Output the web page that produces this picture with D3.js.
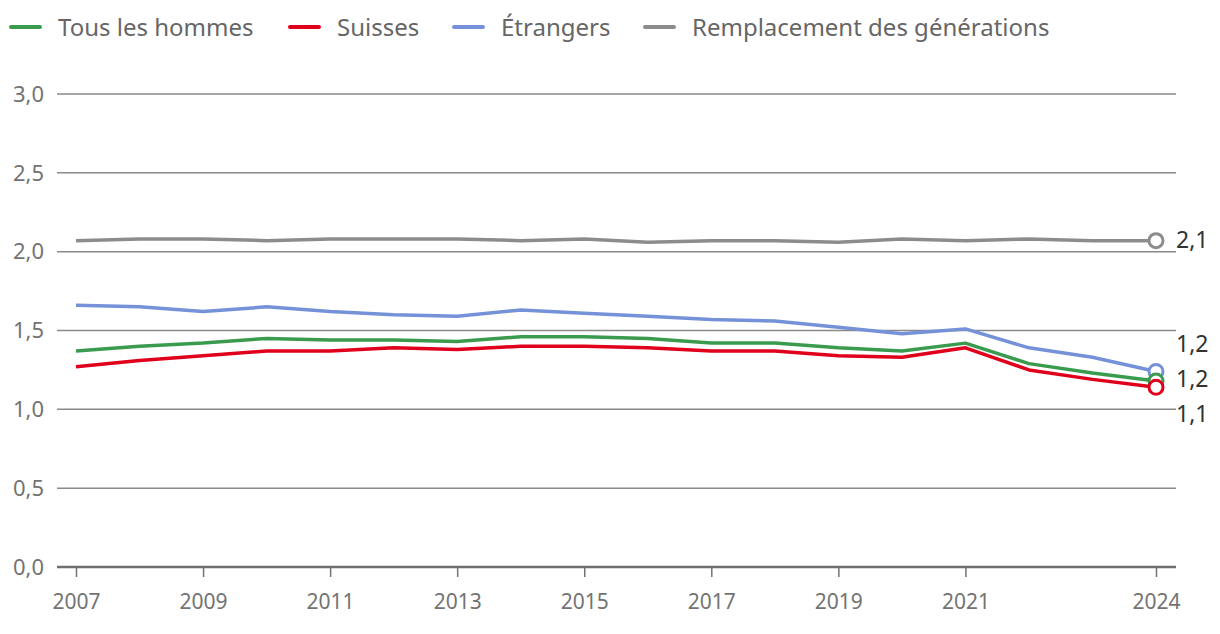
<!DOCTYPE html>
<html>
<head>
<meta charset="utf-8">
<script src="https://cdn.jsdelivr.net/npm/d3@7"></script>
<style>
  body { margin: 0; background: #fff; }
  svg { font-family: "Noto Sans", sans-serif; }
</style>
</head>
<body>
<svg id="chart" width="1220" height="634"></svg>
<script>
// données
var years = d3.range(2007, 2025);
var tickYears = [2007, 2009, 2011, 2013, 2015, 2017, 2019, 2021, 2024];
var yTicks = [0, 0.5, 1, 1.5, 2, 2.5, 3];

var tous = [1.37, 1.40, 1.42, 1.45, 1.44, 1.44, 1.43, 1.46, 1.46, 1.45, 1.42, 1.42, 1.39, 1.37, 1.42, 1.29, 1.23, 1.18];
var suisses = [1.27, 1.31, 1.34, 1.37, 1.37, 1.39, 1.38, 1.40, 1.40, 1.39, 1.37, 1.37, 1.34, 1.33, 1.39, 1.25, 1.19, 1.14];
var etrangers = [1.66, 1.65, 1.62, 1.65, 1.62, 1.60, 1.59, 1.63, 1.61, 1.59, 1.57, 1.56, 1.52, 1.48, 1.51, 1.39, 1.33, 1.24];
var remplacement = [2.07, 2.08, 2.08, 2.07, 2.08, 2.08, 2.08, 2.07, 2.08, 2.06, 2.07, 2.07, 2.06, 2.08, 2.07, 2.08, 2.07, 2.07];

var series = [
  { name: "Tous les hommes", values: tous, color: "#3a9b4e" },
  { name: "Suisses", values: suisses, color: "#e0001b" },
  { name: "Étrangers", values: etrangers, color: "#7592d8" },
  { name: "Remplacement des générations", values: remplacement, color: "#8c8c8c" }
];

var svg = d3.select("#chart");

var x = d3.scaleLinear().domain([2007, 2024]).range([76, 1156]);
var y = d3.scaleLinear().domain([0, 3]).range([567, 94]);

// grille
svg.append("g")
  .selectAll("line")
  .data(yTicks)
  .enter()
  .append("line")
  .attr("x1", 57)
  .attr("x2", 1176)
  .attr("y1", function(d) { return y(d); })
  .attr("y2", function(d) { return y(d); })
  .attr("stroke", function(d) { return d === 0 ? "#6e6e6e" : "#8a8a8a"; })
  .attr("stroke-width", function(d) { return d === 0 ? 2.5 : 1.5; });

// axe y
svg.append("g")
  .selectAll("text")
  .data(yTicks)
  .enter()
  .append("text")
  .attr("x", 44)
  .attr("y", function(d) { return y(d); })
  .attr("dy", "0.35em")
  .attr("text-anchor", "end")
  .attr("font-size", "22px")
  .attr("fill", "#737373")
  .text(function(d) { return d3.format(".1f")(d).replace(".", ","); });

// axe x
var xAxis = svg.append("g")
  .attr("transform", "translate(0," + y(0) + ")")
  .call(d3.axisBottom(x).tickValues(tickYears).tickFormat(d3.format("d")).tickSize(10).tickPadding(17));
xAxis.select(".domain").remove();
xAxis.selectAll(".tick line").attr("stroke", "#737373").attr("stroke-width", 1.5);
xAxis.selectAll(".tick text")
  .attr("font-size", "21px")
  .attr("fill", "#737373")
  .attr("font-family", "Noto Sans, sans-serif");

// lignes
var line = d3.line()
  .x(function(d, i) { return x(years[i]); })
  .y(function(d) { return y(d); });

var drawOrder = [3, 2, 0, 1];
drawOrder.forEach(function(k) {
  var s = series[k];
  svg.append("path")
    .datum(s.values)
    .attr("fill", "none")
    .attr("stroke", s.color)
    .attr("stroke-width", 3.5)
    .attr("stroke-linejoin", "round")
    .attr("d", line);
});

// derniers points
var last = years.length - 1;
drawOrder.forEach(function(k) {
  var s = series[k];
  svg.append("circle")
    .attr("cx", x(years[last]))
    .attr("cy", y(s.values[last]))
    .attr("r", 7)
    .attr("fill", "#fff")
    .attr("stroke", s.color)
    .attr("stroke-width", 3);
});

// étiquettes de fin, décalées pour ne pas se chevaucher
var labels = series.map(function(s) {
  return { v: s.values[last], pos: y(s.values[last]) };
}).sort(function(a, b) { return a.pos - b.pos; });
var gap = 35;
for (var i = 1; i < labels.length; i++) {
  if (labels[i].pos - labels[i - 1].pos < gap) labels[i].pos = labels[i - 1].pos + gap;
}
// recentrer le groupe du bas
var grp = labels.slice(1);
var shift = (d3.mean(grp, function(d) { return y(d.v); }) - d3.mean(grp, function(d) { return d.pos; }));
grp.forEach(function(d) { d.pos += shift; });

svg.append("g")
  .selectAll("text")
  .data(labels)
  .enter()
  .append("text")
  .attr("x", 1176)
  .attr("y", function(d) { return d.pos; })
  .attr("dy", "0.3em")
  .attr("font-size", "23px")
  .attr("fill", "#333")
  .text(function(d) { return d3.format(".1f")(d.v).replace(".", ","); });

// légende
var legendX = [10, 289, 453, 644];
var legend = svg.append("g");
series.forEach(function(s, i) {
  legend.append("line")
    .attr("x1", legendX[i] + 1)
    .attr("x2", legendX[i] + 30)
    .attr("y1", 27)
    .attr("y2", 27)
    .attr("stroke", s.color)
    .attr("stroke-width", 4)
    .attr("stroke-linecap", "round");
  legend.append("text")
    .attr("x", legendX[i] + 48)
    .attr("y", 27)
    .attr("dy", "0.38em")
    .attr("font-size", "24px")
    .attr("fill", "#666")
    .text(s.name);
});
</script>
</body>
</html>
